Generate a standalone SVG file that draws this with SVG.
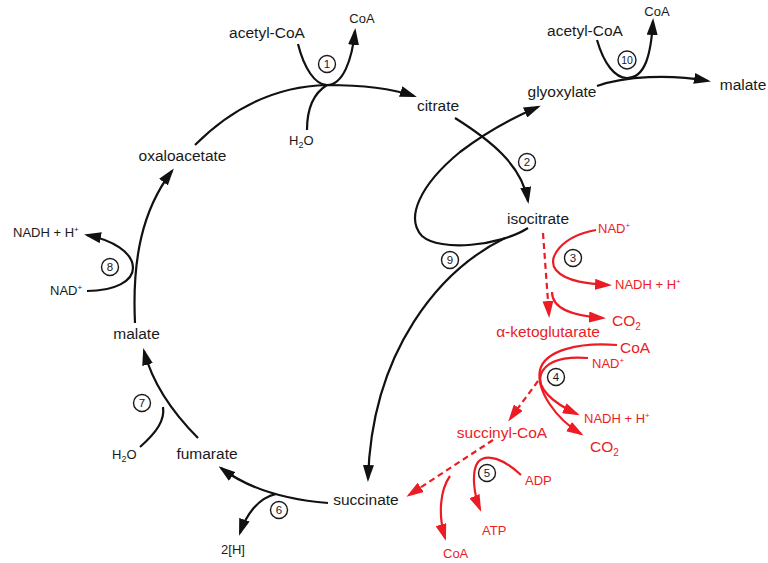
<svg xmlns="http://www.w3.org/2000/svg" width="768" height="563" viewBox="0 0 768 563">
<style>
text{font-family:"Liberation Sans",Arial,sans-serif;}
.m{font-size:15.5px;fill:#1a1a1a;}
.s{font-size:13px;fill:#1a1a1a;}
.rm{font-size:15.5px;fill:#ec1c24;}
.rs{font-size:13px;fill:#ec1c24;}
.n{font-size:11.5px;fill:#1a1a1a;text-anchor:middle;}
.c{fill:#fff;stroke:#1a1a1a;stroke-width:1.4;}
.k{fill:none;stroke:#111;stroke-width:2.2;}
.ka{fill:none;stroke:#111;stroke-width:2.2;marker-end:url(#ab);}
.r{fill:none;stroke:#ec1c24;stroke-width:2.2;}
.ra{fill:none;stroke:#ec1c24;stroke-width:2.2;marker-end:url(#ar);}
.rd{fill:none;stroke:#ec1c24;stroke-width:2.2;stroke-dasharray:6,4;marker-end:url(#ar);}
</style>
<defs>
<marker id="ab" markerUnits="userSpaceOnUse" markerWidth="17" markerHeight="11" viewBox="0 0 17 11" refX="14" refY="5.5" orient="auto"><path d="M0,0 L17,5.5 L0,11 z" fill="#111"/></marker>
<marker id="ar" markerUnits="userSpaceOnUse" markerWidth="17" markerHeight="11" viewBox="0 0 17 11" refX="14" refY="5.5" orient="auto"><path d="M0,0 L17,5.5 L0,11 z" fill="#ec1c24"/></marker>
</defs>
<g id="connectors">
<path class="ka" d="M195,145 C240,100 285,86 327,85 C360,85 390,88 414,96"/>
<path class="ka" d="M298,44 C304,68 315,85 327,85 C343,85 352,60 355,31"/>
<path class="k" d="M307,130 C307,108 314,93 327,85"/>
<path class="ka" d="M455,118 C490,140 522,165 528,201"/>
<path class="ka" d="M528,228 C500,246 440,252 422,236 C405,218 420,185 460,152 C485,133 512,118 538,107"/>
<path class="ka" d="M505,238 C440,270 372,350 368,479"/>
<path class="ka" d="M597,86 C625,76 670,74 708,81"/>
<path class="ka" d="M597,40 C604,64 615,78 627,78 C645,78 651,55 653,21"/>
<path class="ka" d="M328,503 C290,500 250,490 221,468"/>
<path class="ka" d="M276,494 C258,498 246,515 240,533"/>
<path class="ka" d="M198,438 C175,415 153,385 144,351"/>
<path class="k" d="M140,447 C157,432 165,420 163,407"/>
<path class="ka" d="M135,323 C132,260 142,210 172,171"/>
<path class="ka" d="M87,291 C115,291 133,281 133,268 C133,252 112,240 87,235"/>
<path class="rd" d="M543,233 L549,315"/>
<path class="ra" d="M596,230 C562,236 546,258 556,270 C566,282 590,284 609,285"/>
<path class="ra" d="M552,292 C552,310 575,316 603,318"/>
<path class="ra" d="M617,345 C580,342 545,350 540,370 C536,390 555,418 581,434"/>
<path class="ra" d="M588,358 C562,356 546,362 541,374 C536,388 553,403 577,414"/>
<path class="rd" d="M538,381 L510,419"/>
<path class="rd" d="M493,440 L409,495"/>
<path class="ra" d="M521,475 C505,460 487,452 478,462 C471,472 474,495 480,509"/>
<path class="ra" d="M450,476 C440,490 438,515 445,538"/>
</g>
<g id="n1"><circle class="c" cx="327" cy="64" r="8.5"/><text class="n" x="327" y="68">1</text></g>
<g id="n2"><circle class="c" cx="527" cy="162" r="8.5"/><text class="n" x="527" y="166">2</text></g>
<g id="n3"><circle class="c" cx="573" cy="258" r="8.5"/><text class="n" x="573" y="262">3</text></g>
<g id="n4"><circle class="c" cx="556" cy="377" r="8.5"/><text class="n" x="556" y="381">4</text></g>
<g id="n5"><circle class="c" cx="487" cy="473" r="8.5"/><text class="n" x="487" y="477">5</text></g>
<g id="n6"><circle class="c" cx="279" cy="510" r="8.5"/><text class="n" x="279" y="514">6</text></g>
<g id="n7"><circle class="c" cx="142" cy="403" r="8.5"/><text class="n" x="142" y="407">7</text></g>
<g id="n8"><circle class="c" cx="110" cy="267" r="8.5"/><text class="n" x="110" y="271">8</text></g>
<g id="n9"><circle class="c" cx="450" cy="260" r="8.5"/><text class="n" x="450" y="264">9</text></g>
<g id="n10"><circle class="c" cx="627" cy="60" r="9"/><text class="n" x="627" y="64" style="font-size:10.5px">10</text></g>
<g id="acetylcoa1"><text class="m" x="267" y="38" text-anchor="middle">acetyl-CoA</text></g>
<g id="coa1"><text class="s" x="362" y="23" text-anchor="middle">CoA</text></g>
<g id="h2o1"><text class="s" x="289" y="145">H<tspan font-size="9" dy="3">2</tspan><tspan dy="-3">O</tspan></text></g>
<g id="citrate"><text class="m" x="438" y="111" text-anchor="middle">citrate</text></g>
<g id="glyoxylate"><text class="m" x="562" y="97" text-anchor="middle">glyoxylate</text></g>
<g id="acetylcoa2"><text class="m" x="585" y="36" text-anchor="middle">acetyl-CoA</text></g>
<g id="coa2"><text class="s" x="657" y="16" text-anchor="middle">CoA</text></g>
<g id="malate2"><text class="m" x="743" y="90" text-anchor="middle">malate</text></g>
<g id="isocitrate"><text class="m" x="538" y="224" text-anchor="middle">isocitrate</text></g>
<g id="nad3"><text class="rs" x="598" y="233">NAD<tspan font-size="8" dy="-5">+</tspan></text></g>
<g id="nadh3"><text class="rs" x="615" y="289">NADH + H<tspan font-size="8" dy="-5">+</tspan></text></g>
<g id="co2a"><text class="rm" x="612" y="326">CO<tspan font-size="10" dy="4">2</tspan></text></g>
<g id="akg"><text class="rm" x="548" y="337" text-anchor="middle">α-ketoglutarate</text></g>
<g id="coa4"><text class="rm" x="620" y="353">CoA</text></g>
<g id="nad4"><text class="rs" x="592" y="368">NAD<tspan font-size="8" dy="-5">+</tspan></text></g>
<g id="nadh4"><text class="rs" x="584" y="423">NADH + H<tspan font-size="8" dy="-5">+</tspan></text></g>
<g id="co2b"><text class="rm" x="590" y="452">CO<tspan font-size="10" dy="4">2</tspan></text></g>
<g id="succinylcoa"><text class="rm" x="502" y="438" text-anchor="middle">succinyl-CoA</text></g>
<g id="adp"><text class="rs" x="525" y="485">ADP</text></g>
<g id="atp"><text class="rs" x="482" y="535">ATP</text></g>
<g id="coa5"><text class="rs" x="443" y="558">CoA</text></g>
<g id="succinate"><text class="m" x="366" y="505" text-anchor="middle">succinate</text></g>
<g id="h2"><text class="s" x="233" y="554" text-anchor="middle">2[H]</text></g>
<g id="fumarate"><text class="m" x="207" y="459" text-anchor="middle">fumarate</text></g>
<g id="h2o7"><text class="s" x="112" y="459">H<tspan font-size="9" dy="3">2</tspan><tspan dy="-3">O</tspan></text></g>
<g id="malate1"><text class="m" x="136.5" y="339" text-anchor="middle">malate</text></g>
<g id="nad8"><text class="s" x="50" y="295">NAD<tspan font-size="8" dy="-5">+</tspan></text></g>
<g id="nadh8"><text class="s" x="13" y="237">NADH + H<tspan font-size="8" dy="-5">+</tspan></text></g>
<g id="oxaloacetate"><text class="m" x="182.5" y="161" text-anchor="middle">oxaloacetate</text></g>
</svg>
